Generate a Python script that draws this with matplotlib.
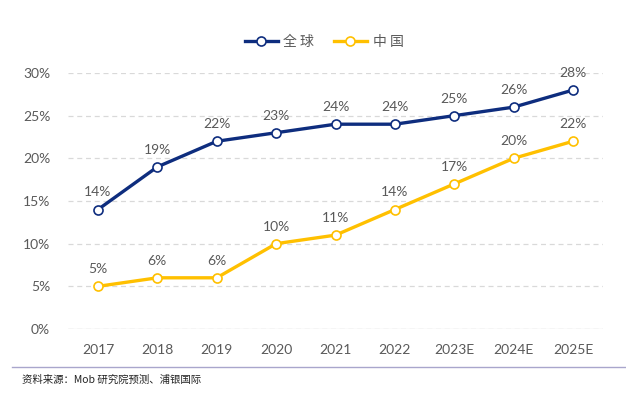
import matplotlib
matplotlib.use("Agg")
import matplotlib.pyplot as plt
from matplotlib.lines import Line2D

years = ["2017", "2018", "2019", "2020", "2021", "2022", "2023E", "2024E", "2025E"]
global_vals = [14, 19, 22, 23, 24, 24, 25, 26, 28]
china_vals = [5, 6, 6, 10, 11, 14, 17, 20, 22]
yticks = [0, 5, 10, 15, 20, 25, 30]

NAVY = "#0E2D7E"
GOLD = "#FFC000"
GRAY = "#595959"

plt.rcParams['font.family'] = ['Lato', 'Noto Sans CJK SC', 'DejaVu Sans']

fig = plt.figure(figsize=(6.26, 3.93), dpi=100)
ax = fig.add_axes([68.3 / 626, 1 - 329 / 393, (602.7 - 68.3) / 626, (329 - 73) / 393])

x = list(range(len(years)))
ax.plot(x, global_vals, color=NAVY, lw=2.4, marker='o', ms=6.5, mfc='white',
        mec=NAVY, mew=1.2, clip_on=False, zorder=3)
ax.plot(x, china_vals, color=GOLD, lw=2.4, marker='o', ms=6.5, mfc='white',
        mec=GOLD, mew=1.2, clip_on=False, zorder=3)

for xi, v in zip(x, global_vals):
    ax.annotate(f"{v}%", (xi, v), xytext=(0, 8), textcoords='offset points',
                ha='center', va='bottom', fontsize=10, color=GRAY)
for xi, v in zip(x, china_vals):
    ax.annotate(f"{v}%", (xi, v), xytext=(0, 8), textcoords='offset points',
                ha='center', va='bottom', fontsize=10, color=GRAY)

ax.set_xlim(-0.5, len(years) - 0.5)
ax.set_ylim(0, 30)
ax.set_yticks(yticks)
ax.set_yticklabels([f"{t}%" for t in yticks])
ax.set_xticks(x)
ax.set_xticklabels(years)
ax.tick_params(axis='both', length=0, labelsize=10, colors=GRAY)
ax.tick_params(axis='y', pad=13)
ax.tick_params(axis='x', pad=11)
for s in ax.spines.values():
    s.set_visible(False)
ax.grid(axis='y', color='#D9D9D9', ls=(0, (4, 3)), lw=0.9)
ax.axhline(0, color='#D9D9D9', lw=0.9)
ax.set_axisbelow(True)

handles = [
    Line2D([], [], color=NAVY, lw=2.4, marker='o', ms=6.5, mfc='white', mec=NAVY, mew=1.2),
    Line2D([], [], color=GOLD, lw=2.4, marker='o', ms=6.5, mfc='white', mec=GOLD, mew=1.2),
]
leg = fig.legend(handles, ["全 球", "中 国"], loc='center', bbox_to_anchor=(324 / 626, 1 - 42 / 393),
                 ncol=2, frameon=False, handlelength=2.4, handletextpad=0.4,
                 columnspacing=1.4, prop={'family': ['Noto Sans CJK SC'], 'size': 10})
for t in leg.get_texts():
    t.set_color(GRAY)

fig.add_artist(Line2D([12 / 626, 1], [1 - 367 / 393] * 2, color='#A9A6CC', lw=1.0))
fig.text(22 / 626, 1 - 380 / 393, "资料来源：Mob 研究院预测、浦银国际", fontsize=7.5,
         family=['Noto Sans CJK SC', 'DejaVu Sans'], color='#222222', va='center', ha='left')

fig.savefig("out.png", dpi=100)
